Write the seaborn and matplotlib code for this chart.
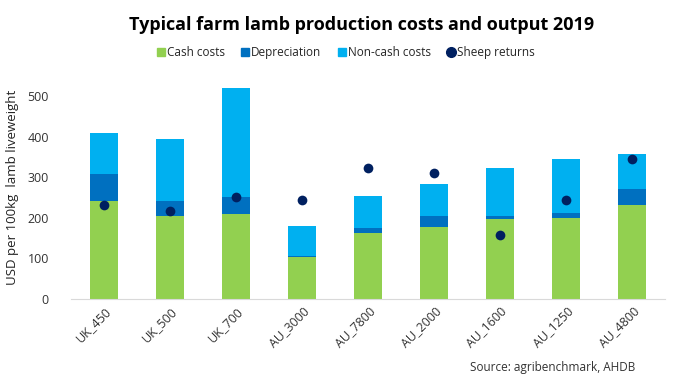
import matplotlib

matplotlib.use("Agg")
import matplotlib.pyplot as plt   # noqa: E402
import numpy as np                 # noqa: E402
import seaborn as sns              # noqa: E402
from matplotlib.lines import Line2D  # noqa: E402

farms = ["UK_450", "UK_500", "UK_700", "AU_3000", "AU_7800",
         "AU_2000", "AU_1600", "AU_1250", "AU_4800"]
cash_costs = [241, 205, 209, 103, 162, 177, 197, 200, 232]
depreciation = [67, 36, 42, 4, 13, 27, 7, 12, 39]
non_cash_costs = [101, 153, 269, 73, 79, 79, 119, 133, 86]
sheep_returns = [232, 218, 252, 245, 322, 310, 159, 245, 346]

C_CASH, C_DEP, C_NONCASH, C_DOT = "#92D050", "#0070C0", "#00B0F0", "#002060"

sns.set_style("white")
plt.rcParams["font.family"] = ["Open Sans", "DejaVu Sans"]

fig = plt.figure(figsize=(6.83, 3.78), dpi=100)
ax = fig.add_axes([0.104, 0.209, 0.870, 0.590])

cash = np.array(cash_costs)
dep = np.array(depreciation)
w = 0.42
bar_kw = dict(width=w, ax=ax, saturation=1, linewidth=0, edgecolor="none")
sns.barplot(x=farms, y=cash_costs, color=C_CASH, **bar_kw)
sns.barplot(x=farms, y=depreciation, bottom=cash, color=C_DEP, **bar_kw)
sns.barplot(x=farms, y=non_cash_costs, bottom=cash + dep, color=C_NONCASH, **bar_kw)
sns.stripplot(x=farms, y=sheep_returns, jitter=False, color=C_DOT, size=7, ax=ax, zorder=5)

ax.set_ylim(0, 550)
ax.set_xlim(-0.5, len(farms) - 0.5)
ax.set_yticks(range(0, 501, 100))
ax.tick_params(axis="y", length=0, labelsize=9, colors="#333333", pad=16)
ax.tick_params(axis="x", length=0, labelsize=9, colors="#333333", pad=4)
plt.setp(ax.get_xticklabels(), rotation=45, ha="right", rotation_mode="anchor")
for s in ["top", "right", "left"]:
    ax.spines[s].set_visible(False)
ax.spines["bottom"].set_color("#d9d9d9")
ax.set_ylabel("USD per 100kg  lamb liveweight", fontsize=9.5, color="#222222", labelpad=6)

fig.text(0.53, 0.935, "Typical farm lamb production costs and output 2019",
         ha="center", va="center", fontsize=13, fontweight="bold", color="black")

handles = [
    Line2D([], [], marker="s", ls="none", color=C_CASH, markersize=5.5),
    Line2D([], [], marker="s", ls="none", color=C_DEP, markersize=5.5),
    Line2D([], [], marker="s", ls="none", color=C_NONCASH, markersize=5.5),
    Line2D([], [], marker="o", ls="none", color=C_DOT, markersize=7),
]
fig.legend(handles, ["Cash costs", "Depreciation", "Non-cash costs", "Sheep returns"],
           loc="center", bbox_to_anchor=(0.505, 0.862), ncol=4, frameon=False,
           fontsize=8.5, handletextpad=0.0, columnspacing=1.2, handlelength=1)

fig.text(0.93, 0.027, "Source: agribenchmark, AHDB", ha="right", va="center",
         fontsize=8.5, color="#333333")

fig.savefig("out.png", dpi=100)
